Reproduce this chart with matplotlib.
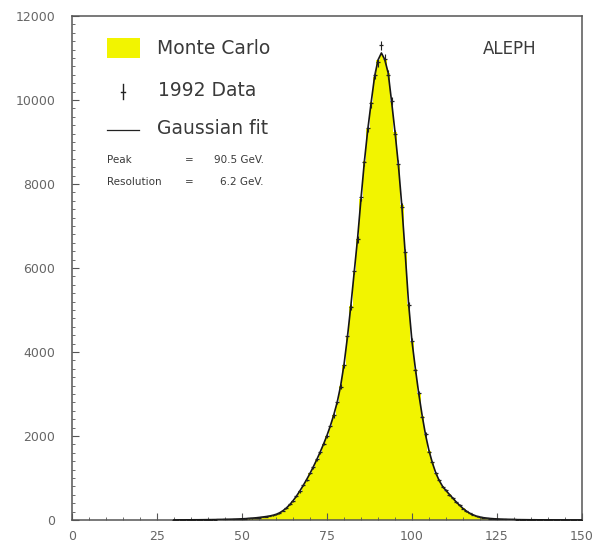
import numpy as np
import matplotlib
matplotlib.use("Agg")
import matplotlib.pyplot as plt
from matplotlib.ticker import MultipleLocator

# Invariant mass bins (GeV), 1 GeV wide, centred on the integers 30..150
mass = list(range(30, 151))

monte_carlo = [
    2, 2, 3, 3, 4, 4, 5, 5, 6, 7,
    8, 9, 10, 11, 12, 14, 16, 18, 21, 24,
    28, 33, 38, 44, 51, 60, 70, 80, 92, 108,
    130, 165, 215, 280, 360, 455, 565, 690, 820, 960,
    1110, 1270, 1440, 1620, 1810, 2010, 2240, 2500, 2800, 3180,
    3700, 4350, 5100, 5900, 6700, 7650, 8550, 9300, 9950, 10550,
    10950, 11100, 10950, 10650, 9950, 9250, 8450, 7500, 6350, 5150,
    4250, 3600, 3000, 2480, 2020, 1650, 1360, 1120, 940, 800,
    700, 610, 520, 430, 350, 275, 210, 160, 120, 90,
    70, 55, 44, 36, 30, 25, 21, 18, 15, 13,
    11, 9, 8, 7, 6, 5, 5, 4, 4, 3,
    3, 3, 2, 2, 2, 2, 1, 1, 1, 1, 1,
]

data_1992 = [
    2, 3, 2, 4, 3, 5, 4, 6, 6, 7,
    8, 10, 9, 12, 13, 13, 17, 17, 22, 23,
    29, 31, 40, 42, 53, 58, 72, 78, 95, 110,
    135, 160, 220, 275, 370, 450, 575, 680, 830, 950,
    1120, 1260, 1450, 1610, 1820, 2000, 2250, 2490, 2810, 3170,
    3680, 4380, 5080, 5930, 6680, 7690, 8520, 9330, 9920, 10600,
    10900, 11300, 10980, 10600, 9980, 9200, 8480, 7460, 6380, 5120,
    4270, 3570, 3020, 2460, 2040, 1630, 1370, 1110, 950, 790,
    710, 600, 530, 420, 360, 270, 215, 155, 125, 88,
    72, 53, 45, 35, 31, 24, 22, 17, 16, 12,
    12, 8, 9, 6, 7, 5, 6, 4, 5, 3,
    3, 4, 2, 3, 2, 2, 1, 2, 1, 1, 1,
]

gauss_fit = [
    2, 2, 3, 3, 4, 4, 5, 5, 6, 7,
    8, 9, 10, 11, 12, 14, 16, 18, 21, 24,
    28, 32, 38, 44, 51, 60, 70, 81, 93, 109,
    132, 168, 218, 282, 362, 457, 567, 690, 822, 962,
    1110, 1270, 1440, 1620, 1810, 2015, 2245, 2505, 2805, 3190,
    3700, 4350, 5090, 5900, 6710, 7650, 8540, 9300, 9950, 10560,
    10950, 11120, 10960, 10640, 9960, 9240, 8450, 7490, 6350, 5150,
    4250, 3600, 3000, 2480, 2020, 1650, 1360, 1120, 940, 800,
    700, 610, 520, 430, 350, 275, 210, 160, 120, 90,
    70, 55, 44, 36, 30, 25, 21, 18, 15, 13,
    11, 9, 8, 7, 6, 5, 5, 4, 4, 3,
    3, 3, 2, 2, 2, 2, 1, 1, 1, 1, 1,
]

W, H = 598, 553
YELLOW = '#f2f400'
GREY = '#555555'
TXT = '#3a3a3a'


def px(x, y):
    # pixel position (from top left) -> figure fraction
    return x / W, 1 - y / H


fig = plt.figure(figsize=(W / 100, H / 100), dpi=100)
ax = fig.add_axes([72 / W, 1 - 520 / H, (582 - 72) / W, (520 - 16) / H])

m = np.array(mass)
ax.fill_between(m, monte_carlo, step='mid', color=YELLOW, lw=0, zorder=1)
ax.plot(m, gauss_fit, color='#151515', lw=1.2, zorder=3)

d = np.array(data_1992, dtype=float)
ax.errorbar(m, d, yerr=np.sqrt(d), fmt='_', color='#222222', ms=3,
            mew=0.9, elinewidth=0.8, capsize=0, zorder=4)

ax.set_xlim(0, 150)
ax.set_ylim(0, 12000)
ax.xaxis.set_major_locator(MultipleLocator(25))
ax.xaxis.set_minor_locator(MultipleLocator(5))
ax.yaxis.set_major_locator(MultipleLocator(2000))
ax.yaxis.set_minor_locator(MultipleLocator(200))
ax.tick_params(which='both', direction='in', color=GREY, top=False, right=False)
ax.tick_params(which='major', length=5, width=0.8)
ax.tick_params(which='minor', length=2.5, width=0.6)
ax.tick_params(axis='x', labelsize=9, labelcolor='#666666', pad=7)
ax.tick_params(axis='y', labelsize=9, labelcolor='#666666', pad=12)
for s in ax.spines.values():
    s.set_color(GREY)
    s.set_linewidth(1.1)

# legend drawn by hand, as in the original
leg = fig.add_axes([0, 0, 1, 1], facecolor='none')
leg.set_xlim(0, W)
leg.set_ylim(H, 0)
leg.axis('off')
leg.add_patch(plt.Rectangle((107, 38), 33, 20, facecolor=YELLOW, edgecolor='none'))
leg.plot([123, 123], [84, 99], color='#222222', lw=1)
leg.plot([121, 125], [91.5, 91.5], color='#222222', lw=1)
leg.plot([107, 139], [130, 130], color='#222222', lw=0.9)

fig.text(*px(157, 49), 'Monte Carlo', fontsize=13.5, color=TXT, va='center')
fig.text(*px(158, 91), '1992 Data', fontsize=13.5, color=TXT, va='center')
fig.text(*px(157, 129), 'Gaussian fit', fontsize=13.5, color=TXT, va='center')
fig.text(*px(107, 160), 'Peak', fontsize=7.5, color=TXT, va='center')
fig.text(*px(185, 160), '=', fontsize=7.5, color=TXT, va='center')
fig.text(*px(264, 160), '90.5 GeV.', fontsize=7.5, color=TXT, va='center', ha='right')
fig.text(*px(107, 182), 'Resolution', fontsize=7.5, color=TXT, va='center')
fig.text(*px(185, 182), '=', fontsize=7.5, color=TXT, va='center')
fig.text(*px(264, 182), '6.2 GeV.', fontsize=7.5, color=TXT, va='center', ha='right')
fig.text(*px(510, 49), 'ALEPH', fontsize=12, color=TXT, va='center', ha='center')

fig.savefig('out.png', dpi=100, facecolor='white')
